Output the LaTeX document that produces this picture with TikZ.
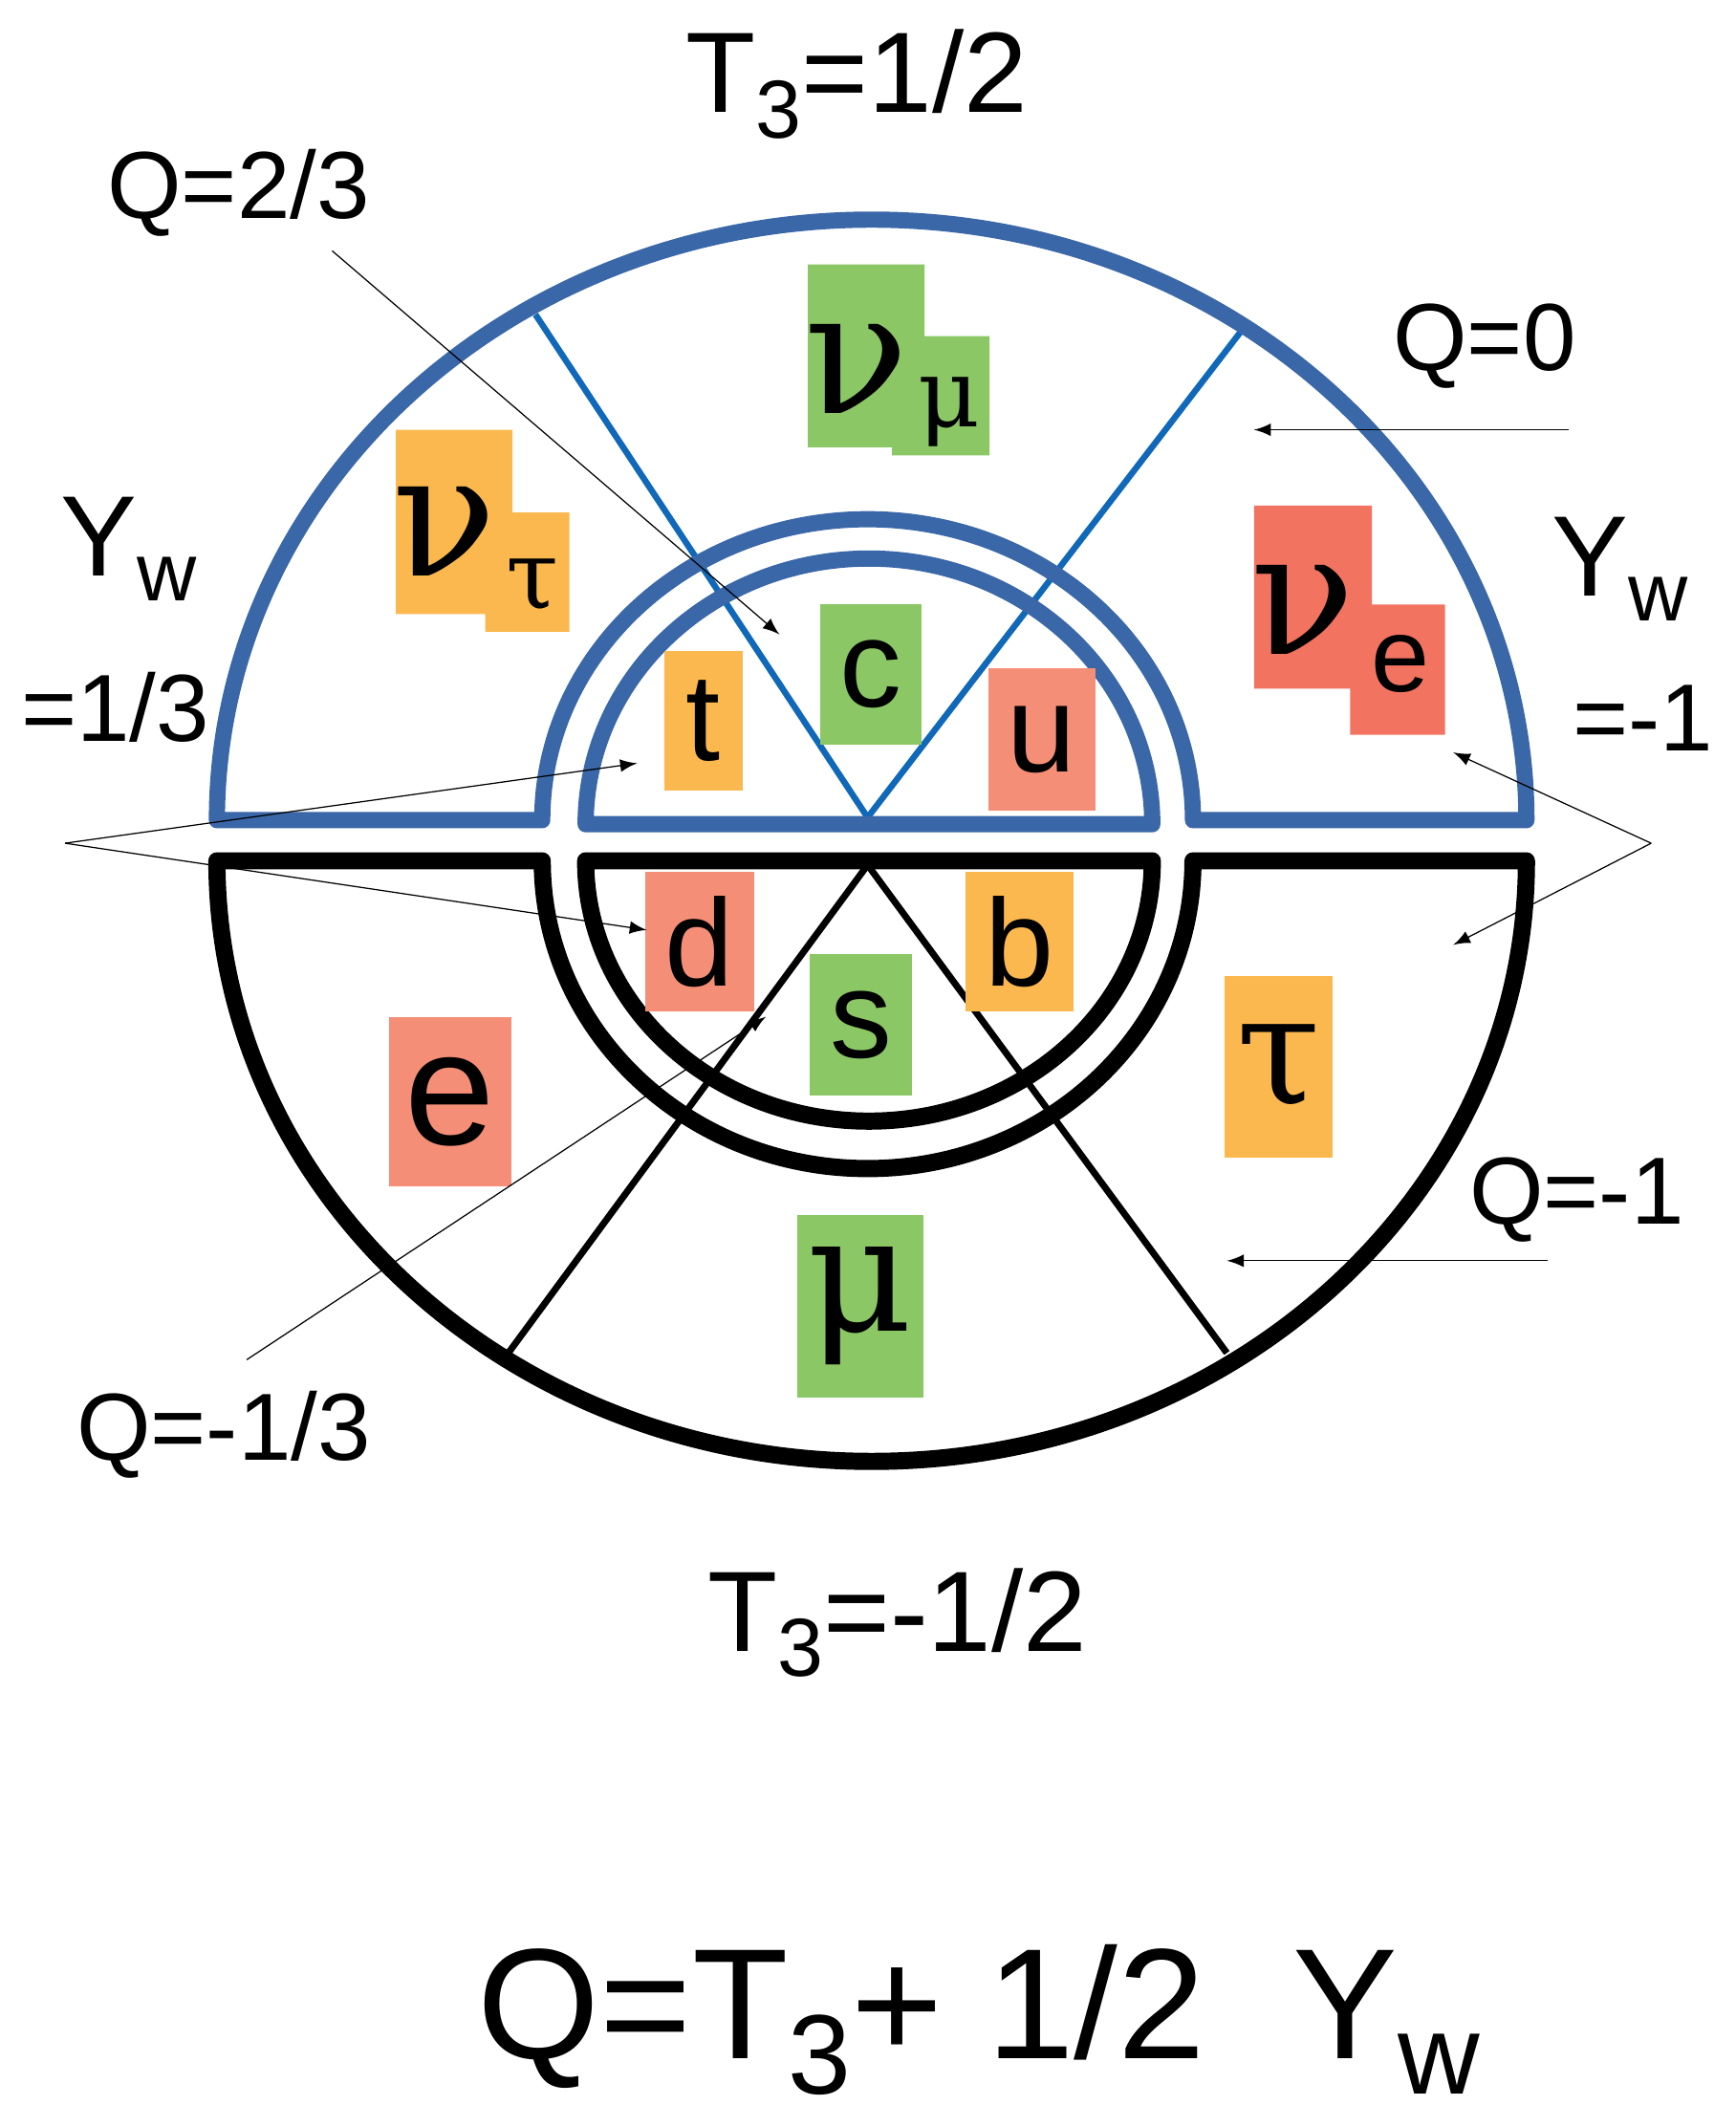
\documentclass[tikz,border=0pt]{standalone}
\usepackage{fontspec}
\setmainfont{Liberation Sans}
\newfontfamily\grk{DejaVu Serif}
\newcommand\lsub[1]{\raisebox{-0.22em}{\scalebox{0.72}{#1}}}
\definecolor{bgreen}{HTML}{8BC765}
\definecolor{borange}{HTML}{FBB84E}
\definecolor{bred}{HTML}{F27360}
\definecolor{bsalmon}{HTML}{F48E76}
\definecolor{ringblue}{HTML}{3A67A8}
\definecolor{lineblue}{HTML}{1068B8}
\tikzset{
 ringb/.style={draw=ringblue,line width=3.4pt,line join=round},
 ringk/.style={draw=black,line width=3.6pt,line join=round},
 spokeb/.style={draw=lineblue,line width=1.3pt},
 spokek/.style={draw=black,line width=1.4pt},
 thin/.style={draw=black,line width=0.25pt},
 arr/.style={thin,-latex},
 lab/.style={font=\fontsize{20}{22}\selectfont,inner sep=0pt},
 box/.style={inner sep=0pt,font=\fontsize{26}{28}\selectfont},
}
\begin{document}
\begin{tikzpicture}[x=0.01cm,y=0.01cm]
\useasboundingbox (0,0) rectangle (1280,-1569);
% spokes
\coordinate (ct) at (640,-603);
\coordinate (tl) at (395,-232);
\coordinate (tr) at (915,-245);
\coordinate (cb) at (640,-638);
\coordinate (bl) at (375,-998);
\coordinate (br) at (905,-998);
\draw[spokeb] (ct) -- (tl);
\draw[spokeb] (ct) -- (tr);
\draw[spokek] (cb) -- (bl);
\draw[spokek] (cb) -- (br);
% rings
\draw[ringb] (160,-605) arc[start angle=180,end angle=0,x radius=483,y radius=443] -- (880,-605) arc[start angle=0,end angle=180,x radius=240,y radius=222] -- cycle;
\draw[ringb] (432,-608) arc[start angle=180,end angle=0,x radius=209,y radius=196] -- cycle;
\draw[ringk] (160,-635) arc[start angle=180,end angle=360,x radius=483,y radius=443] -- (880,-635) arc[start angle=360,end angle=180,x radius=240,y radius=227] -- cycle;
\draw[ringk] (432,-635) arc[start angle=180,end angle=360,x radius=209,y radius=192] -- cycle;
% boxes
\fill[bgreen] (596,-195) rectangle (682,-330) (658,-248) rectangle (730,-336);
\node[inner sep=0pt,font=\grk\fontsize{36}{38}\selectfont] (numu) at (632,-272) {ν};
\node[inner sep=0pt,font=\grk\fontsize{20}{22}\selectfont] (numus) at (700,-304) {μ};
\fill[borange] (292,-317) rectangle (378,-453) (358,-378) rectangle (420,-466);
\node[inner sep=0pt,font=\grk\fontsize{36}{38}\selectfont] (nutau) at (328,-392) {ν};
\node[inner sep=0pt,font=\grk\fontsize{20}{22}\selectfont] (nutaus) at (393,-432) {τ};
\fill[bred] (925,-373) rectangle (1012,-508) (996,-446) rectangle (1066,-542);
\node[inner sep=0pt,font=\grk\fontsize{36}{38}\selectfont] (nue) at (961,-450) {ν};
\node[inner sep=0pt,font=\fontsize{22}{24}\selectfont] (nues) at (1033,-490) {e};
\node[box,fill=bgreen,minimum width=0.75cm,minimum height=1.03cm] (c) at (642.5,-497.5) {c};
\node[box,fill=borange,minimum width=0.58cm,minimum height=1.03cm] (t) at (519,-531.5) {t};
\node[box,fill=bsalmon,minimum width=0.79cm,minimum height=1.05cm] (u) at (768.5,-545.5) {u};
\node[box,fill=bsalmon,minimum width=0.80cm,minimum height=1.03cm] (d) at (516,-694.5) {d};
\node[box,fill=borange,minimum width=0.80cm,minimum height=1.03cm] (b) at (752,-694.5) {b};
\node[box,fill=bgreen,minimum width=0.76cm,minimum height=1.04cm] (s) at (635,-756) {s};
\node[box,fill=bsalmon,minimum width=0.90cm,minimum height=1.25cm,font=\fontsize{34}{36}\selectfont] (e) at (332,-812.5) {e};
\node[box,fill=borange,minimum width=0.80cm,minimum height=1.34cm,font=\grk\fontsize{32}{34}\selectfont] (tau) at (943,-787) {τ};
\node[box,fill=bgreen,minimum width=0.93cm,minimum height=1.35cm,font=\grk\fontsize{34}{36}\selectfont] (mu) at (634.5,-963.5) {μ};
% labels
\node[lab,font=\fontsize{24}{26}\selectfont] (t3p) at (632,-62) {T\lsub{3}=1/2};
\node[lab,font=\fontsize{24}{26}\selectfont] (t3m) at (662,-1197) {T\lsub{3}=-1/2};
\node[lab] (q23) at (176,-142) {Q=2/3};
\node[lab] (q0) at (1095,-255) {Q=0};
\node[lab] (qm1) at (1163,-885) {Q=-1};
\node[lab] (qm13) at (165,-1058) {Q=-1/3};
\node[lab,font=\fontsize{24}{26}\selectfont] (ywl) at (95,-405) {Y\lsub{w}};
\node[lab] (ywl2) at (85,-522) {=1/3};
\node[lab,font=\fontsize{24}{26}\selectfont] (ywr) at (1195,-420) {Y\lsub{w}};
\node[lab] (ywr2) at (1212,-530) {=-1};
\node[lab,font=\fontsize{33}{35}\selectfont] (formula) at (722,-1490) {Q=T\lsub{3}+ 1/2\ \ Y\lsub{w}};
% pointers
\coordinate (a1) at (245,-185); \coordinate (a1e) at (575,-468);
\coordinate (a2) at (1157,-317); \coordinate (a2e) at (925,-317);
\coordinate (a3) at (1142,-930); \coordinate (a3e) at (905,-930);
\coordinate (pl) at (48,-622); \coordinate (ple1) at (470,-563); \coordinate (ple2) at (477,-686);
\coordinate (pr) at (1218,-622); \coordinate (pre1) at (1072,-555); \coordinate (pre2) at (1072,-697);
\coordinate (a4) at (182,-1003); \coordinate (a4e) at (565,-750);
\draw[arr] (a1) -- (a1e);
\draw[arr] (a2) -- (a2e);
\draw[arr] (a3) -- (a3e);
\draw[arr] (pl) -- (ple1);
\draw[arr] (pl) -- (ple2);
\draw[arr] (pr) -- (pre1);
\draw[arr] (pr) -- (pre2);
\draw[arr] (a4) -- (a4e);
\end{tikzpicture}
\end{document}
